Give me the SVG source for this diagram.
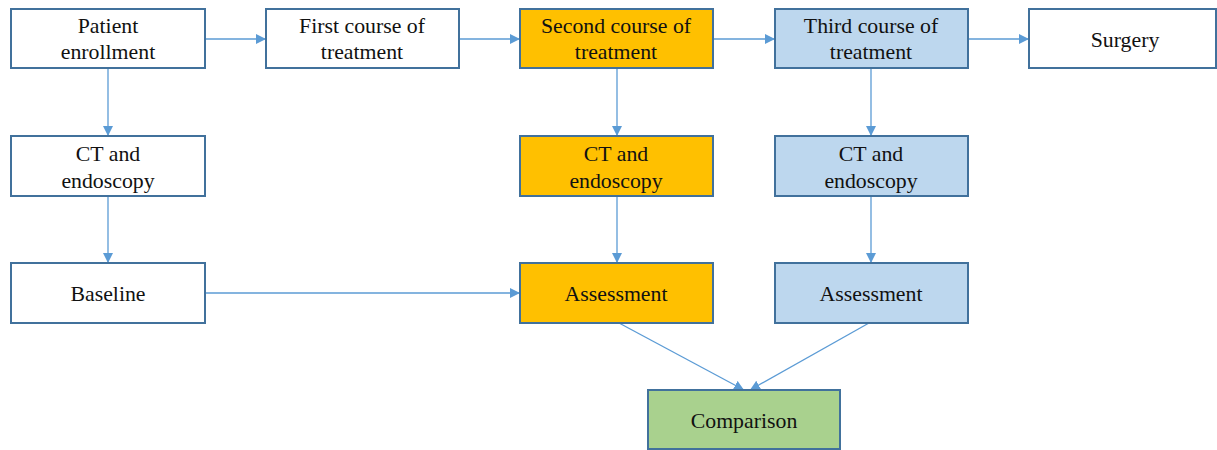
<svg xmlns="http://www.w3.org/2000/svg" width="1217" height="450" viewBox="0 0 1217 450">
<defs>
<marker id="ah" viewBox="0 0 10 10" refX="10" refY="5" markerWidth="10" markerHeight="10" markerUnits="userSpaceOnUse" orient="auto"><path d="M0,0 L10,5 L0,10 Z" fill="#5B9BD5"/></marker>
<style>
.b{stroke:#41719C;stroke-width:2}
.w{fill:#FFFFFF}.o{fill:#FFC000}.l{fill:#BDD7EE}.g{fill:#A9D18E}
text{font-family:"Liberation Serif","Times New Roman",serif;font-size:21.8px;fill:#111;text-anchor:middle}
.c{stroke:#5B9BD5;stroke-width:1.3;fill:none;marker-end:url(#ah)}
</style>
</defs>
<rect width="1217" height="450" fill="#fff"/>
<g id="connectors">
<path class="c" d="M205,39 H266"/>
<path class="c" d="M459,39 H520"/>
<path class="c" d="M713,39 H775"/>
<path class="c" d="M968,39 H1029"/>
<path class="c" d="M108,68 V136"/>
<path class="c" d="M108,196 V263"/>
<path class="c" d="M617,68 V136"/>
<path class="c" d="M617,196 V263"/>
<path class="c" d="M871,68 V136"/>
<path class="c" d="M871,196 V263"/>
<path class="c" d="M205,293 H520"/>
<path class="c" d="M619,323 L744,390"/>
<path class="c" d="M869,323 L750,390"/>
</g>
<g id="patient"><rect class="b w" x="11" y="9" width="194" height="59"/><text x="108" y="33">Patient</text><text x="108" y="59">enrollment</text></g>
<g id="first"><rect class="b w" x="266" y="9" width="193" height="59"/><text x="362" y="33">First course of</text><text x="362" y="59">treatment</text></g>
<g id="second"><rect class="b o" x="520" y="9" width="193" height="59"/><text x="616" y="33">Second course of</text><text x="616" y="59">treatment</text></g>
<g id="third"><rect class="b l" x="775" y="9" width="193" height="59"/><text x="871" y="33">Third course of</text><text x="871" y="59">treatment</text></g>
<g id="surgery"><rect class="b w" x="1029" y="9" width="187" height="59"/><text x="1125" y="47">Surgery</text></g>
<g id="ct1"><rect class="b w" x="11" y="136" width="194" height="60"/><text x="108" y="161">CT and</text><text x="108" y="188">endoscopy</text></g>
<g id="ct2"><rect class="b o" x="520" y="136" width="193" height="60"/><text x="616" y="161">CT and</text><text x="616" y="188">endoscopy</text></g>
<g id="ct3"><rect class="b l" x="775" y="136" width="193" height="60"/><text x="871" y="161">CT and</text><text x="871" y="188">endoscopy</text></g>
<g id="baseline"><rect class="b w" x="11" y="263" width="194" height="60"/><text x="108" y="301">Baseline</text></g>
<g id="assess2"><rect class="b o" x="520" y="263" width="193" height="60"/><text x="616" y="301">Assessment</text></g>
<g id="assess3"><rect class="b l" x="775" y="263" width="193" height="60"/><text x="871" y="301">Assessment</text></g>
<g id="comparison"><rect class="b g" x="648" y="390" width="192" height="59"/><text x="744" y="428">Comparison</text></g>
</svg>
